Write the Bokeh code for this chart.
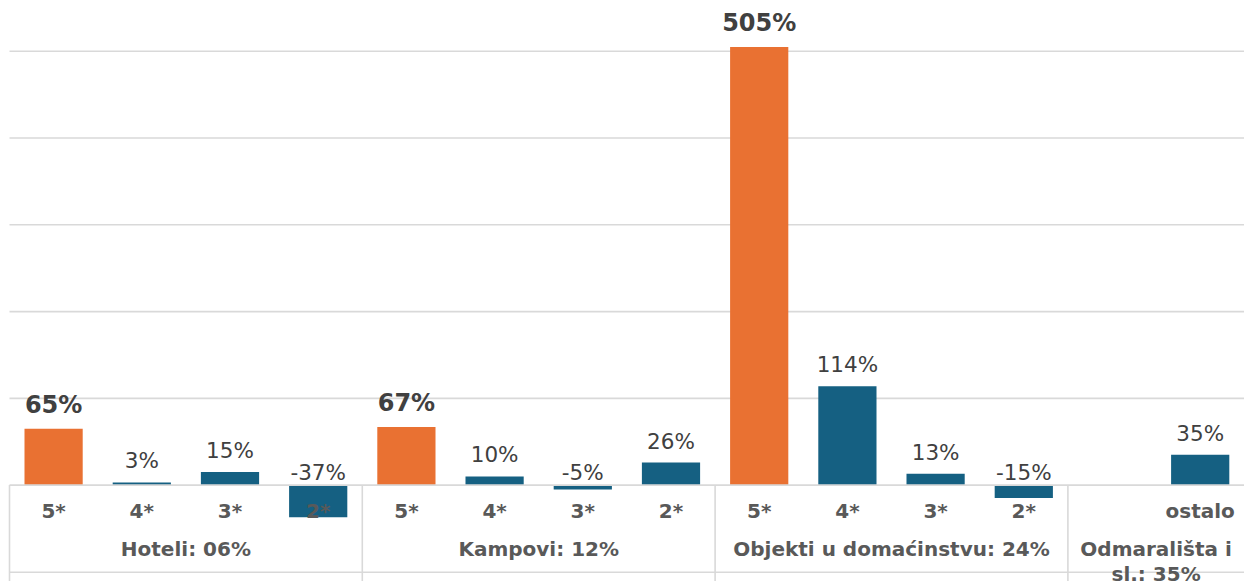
from bokeh.plotting import figure
from bokeh.models import Range1d
from bokeh.embed import file_html
from bokeh.resources import INLINE
from bokeh.core.properties import value

# ---------------- data ----------------
group_labels = ["Hoteli: 06%", "Kampovi: 12%", "Objekti u domaćinstvu: 24%", "Odmarališta i\nsl.: 35%"]
group_sizes = [4, 4, 4, 2]
sub_labels = ["5*", "4*", "3*", "2*",
              "5*", "4*", "3*", "2*",
              "5*", "4*", "3*", "2*",
              "", "ostalo"]
values = [65, 3, 15, -37,
          67, 10, -5, 26,
          505, 114, 13, -15,
          None, 35]
highlight_label = "5*"
grid_values = [100, 200, 300, 400, 500]

ORANGE = "#E97132"
BLUE = "#156082"
GRID = "#D9D9D9"
TXT = "#404040"
CAT = "#595959"
FONT = "DejaVu Sans"

# ---------------- layout (pixels) ----------------
W, H = 1244, 581
PX_PER_PCT = 0.8676
ZERO_PX = 484.6
SLOT_PX = 88.2
LEFT_PX = 9.0


def dy(px):
    return px / PX_PER_PCT


n_slots = len(sub_labels)
x_end = (W - LEFT_PX) / SLOT_PX
p = figure(width=W, height=H, output_backend="svg", toolbar_location=None,
           x_range=Range1d(-LEFT_PX / SLOT_PX, x_end),
           y_range=Range1d(-dy(H - ZERO_PX), dy(ZERO_PX)),
           x_axis_type=None, y_axis_type=None, min_border=0)
p.outline_line_color = None
p.background_fill_color = "white"
p.border_fill_color = "white"
p.xgrid.visible = False
p.ygrid.visible = False

# gridlines (drawn first, behind bars)
ng = len(grid_values)
p.segment(x0=[0] * ng, y0=grid_values, x1=[x_end] * ng, y1=grid_values,
          line_color=GRID, line_width=1.6)

# bars
bx, btop, bcol, bbold = [], [], [], []
for i, (lab, v) in enumerate(zip(sub_labels, values)):
    if v is None:
        continue
    bx.append(i + 0.5)
    btop.append(v)
    hl = lab == highlight_label
    bcol.append(ORANGE if hl else BLUE)
    bbold.append(hl)

p.vbar(x=bx, top=btop, bottom=0, width=0.66, fill_color=bcol, line_color=None)

# table lines
bottom_y = -dy(87.1)
p.segment(x0=[0, 0], y0=[0, bottom_y], x1=[x_end, x_end], y1=[0, bottom_y],
          line_color=GRID, line_width=1.6)
edges = [0]
for s in group_sizes[:-1]:
    edges.append(edges[-1] + s)
p.segment(x0=edges, y0=[0] * len(edges), x1=edges, y1=[-dy(H)] * len(edges),
          line_color=GRID, line_width=1.6)

# value labels
nx, ny, nt = [], [], []
hx, hy, ht = [], [], []
for x, v, b in zip(bx, btop, bbold):
    t = f"{v}%"
    if b:
        hx.append(x); hy.append(v + dy(23.5)); ht.append(t)
    else:
        nx.append(x); ny.append((v + dy(21.5)) if v >= 0 else dy(12.5)); nt.append(t)

p.text(x=nx, y=ny, text=nt, text_align="center", text_baseline="middle",
       text_font=value(FONT), text_font_size="21.5px", text_color=TXT)
p.text(x=hx, y=hy, text=ht, text_align="center", text_baseline="middle",
       text_font=value(FONT), text_font_size="24px", text_font_style="bold", text_color=TXT)

# sub category labels
sx = [i + 0.5 for i in range(n_slots)]
p.text(x=sx, y=[-dy(25.6)] * n_slots, text=sub_labels, text_align="center",
       text_baseline="middle", text_font=value(FONT), text_font_size="20px",
       text_font_style="bold", text_color=CAT)

# group labels (multi-line split manually)
gx, gy, gt = [], [], []
start = 0
for lab, s in zip(group_labels, group_sizes):
    for k, line in enumerate(lab.split("\n")):
        gx.append(start + s / 2)
        gy.append(-dy(63.5 + 25 * k))
        gt.append(line)
    start += s
p.text(x=gx, y=gy, text=gt, text_align="center", text_baseline="middle",
       text_font=value(FONT), text_font_size="20px", text_font_style="bold", text_color=CAT)

open("out.html", "w").write(file_html(p, INLINE))
